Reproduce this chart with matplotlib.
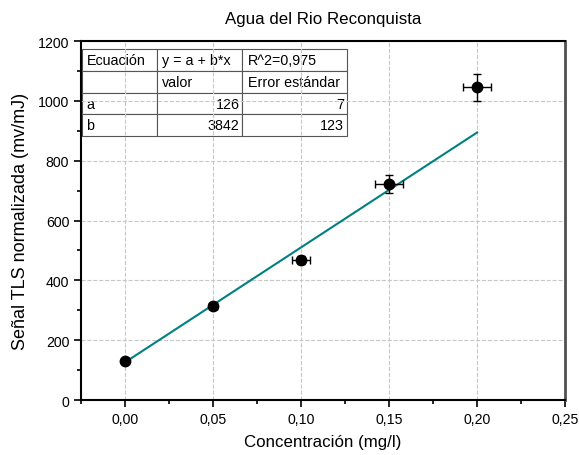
import matplotlib.pyplot as plt
import numpy as np
from matplotlib.ticker import MultipleLocator, FuncFormatter

plt.rcParams['font.family'] = ['Liberation Sans', 'DejaVu Sans']

# data
conc = [0.00, 0.05, 0.10, 0.15, 0.20]
signal = [130, 315, 468, 722, 1045]
x_err = [0.001, 0.002, 0.005, 0.008, 0.008]
y_err = [5, 10, 12, 30, 45]

fit_a = 126
fit_b = 3842
fit_x = [0.0, 0.20]

table_rows = [
    ["Ecuación", "y = a + b*x", "R^2=0,975"],
    ["", "valor", "Error estándar"],
    ["a", "126", "7"],
    ["b", "3842", "123"],
]


def comma_fmt(decimals):
    return FuncFormatter(lambda v, pos: f"{v:.{decimals}f}".replace(".", ","))


fig = plt.figure(figsize=(5.79, 4.56), dpi=100)
ax = fig.add_axes([0.1399, 0.1206, 0.836, 0.787])

fit_y = [fit_a + fit_b * x for x in fit_x]
ax.plot(fit_x, fit_y, color="#008080", lw=1.5, zorder=2)
ax.errorbar(conc, signal, xerr=x_err, yerr=y_err, fmt="o", color="black",
            ms=7.5, elinewidth=1, capsize=3, capthick=1, zorder=3)

ax.set_xlim(-0.025, 0.25)
ax.set_ylim(0, 1200)
ax.xaxis.set_major_locator(MultipleLocator(0.05))
ax.xaxis.set_minor_locator(MultipleLocator(0.025))
ax.yaxis.set_major_locator(MultipleLocator(200))
ax.yaxis.set_minor_locator(MultipleLocator(100))
ax.xaxis.set_major_formatter(comma_fmt(2))
ax.tick_params(which="both", direction="out", top=False, right=False,
               labelsize=10.2, width=1.2)
ax.tick_params(which="major", length=5)
ax.tick_params(which="minor", length=3)
ax.grid(True, which="major", ls="--", color="#c8c8c8", lw=0.8)
ax.set_axisbelow(True)
for side in ["left", "bottom", "top"]:
    ax.spines[side].set_linewidth(1.5)
ax.spines["right"].set_linewidth(2.0)
ax.spines["right"].set_color("#505050")

ax.set_xlabel("Concentración (mg/l)", fontsize=12.2, labelpad=6)
ax.set_ylabel("Señal TLS normalizada (mv/mJ)", fontsize=13, labelpad=6)
ax.set_title("Agua del Rio Reconquista", fontsize=12.2, pad=13)

tbl = ax.table(cellText=table_rows, bbox=[0.002, 0.735, 0.5475, 0.243],
               colWidths=[75, 85, 105], cellLoc="left")
tbl.auto_set_font_size(False)
tbl.set_fontsize(10.3)
for (r, c), cell in tbl.get_celld().items():
    cell.set_edgecolor("#555555")
    cell.set_linewidth(0.8)
    cell.set_facecolor("white")
    cell.PAD = 0.06
    if r >= 2 and c >= 1:
        cell.get_text().set_ha("right")
        cell._loc = "right"
        cell.PAD = 0.03

fig.savefig("out.png", dpi=100)
